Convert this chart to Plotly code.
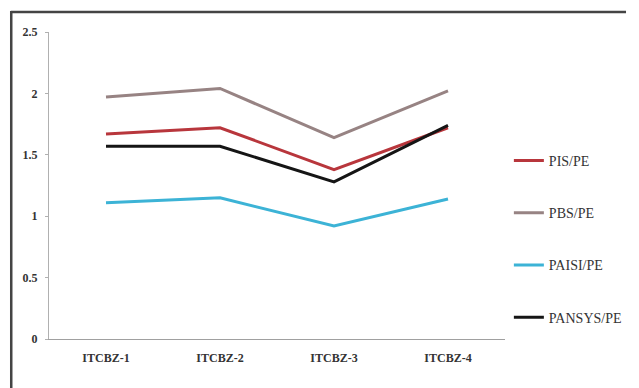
import plotly.graph_objects as go

categories = ["ITCBZ-1", "ITCBZ-2", "ITCBZ-3", "ITCBZ-4"]
pis_pe = [1.67, 1.72, 1.38, 1.72]
pbs_pe = [1.97, 2.04, 1.64, 2.02]
paisi_pe = [1.11, 1.15, 0.92, 1.14]
pansys_pe = [1.57, 1.57, 1.28, 1.74]
y_ticks = [0, 0.5, 1, 1.5, 2, 2.5]
y_tick_labels = ["0", "0.5", "1", "1.5", "2", "2.5"]

series = [
    ("PIS/PE", pis_pe, "#b8363c"),
    ("PBS/PE", pbs_pe, "#978383"),
    ("PAISI/PE", paisi_pe, "#3cb3d6"),
    ("PANSYS/PE", pansys_pe, "#151515"),
]

fig = go.Figure()
for i, (name, vals, color) in enumerate(series):
    fig.add_trace(go.Scatter(
        x=categories, y=vals, name=name, mode="lines",
        line=dict(color=color, width=3),
        legendgroup="g%d" % i,
    ))

W, H = 639, 388
L, R, T, B = 49, 119, 32, 49
pw = W - L - R
ph = H - T - B

def px_x(p):
    return (p - L) / pw

def px_y(p):
    return (H - B - p) / ph

fig.update_layout(
    width=W, height=H,
    margin=dict(l=L, r=R, t=T, b=B),
    paper_bgcolor="white", plot_bgcolor="white",
    font=dict(family="Liberation Serif, Times New Roman, serif", color="#333"),
    showlegend=True,
    legend=dict(
        x=px_x(524), xanchor="left",
        y=px_y(145), yanchor="top",
        traceorder="grouped", tracegroupgap=31,
        itemwidth=30,
        font=dict(size=14, color="#333", family="Liberation Serif, serif"),
        bgcolor="rgba(0,0,0,0)",
    ),
    xaxis=dict(
        type="category", range=[-0.5, 3.5],
        showline=True, linecolor="#a0a0a0", linewidth=1,
        showgrid=False, zeroline=False,
        ticks="",
        tickfont=dict(size=12, color="#333", family="Liberation Serif, serif", weight="bold"),
        ticklabelstandoff=8,
    ),
    yaxis=dict(
        range=[0, 2.5], tickvals=y_ticks, ticktext=y_tick_labels,
        showline=True, linecolor="#b0b0b0", linewidth=1,
        showgrid=False, zeroline=False,
        ticks="outside", ticklen=3, tickcolor="#b0b0b0",
        tickfont=dict(size=12, color="#333", family="Liberation Serif, serif", weight="bold"),
        ticklabelstandoff=5,
    ),
    shapes=[
        dict(type="line", xref="paper", yref="paper",
             x0=px_x(9.5), x1=px_x(645), y0=px_y(12), y1=px_y(12),
             line=dict(color="#444", width=2.5)),
        dict(type="line", xref="paper", yref="paper",
             x0=px_x(10), x1=px_x(10), y0=px_y(11), y1=px_y(395),
             line=dict(color="#444", width=2.5)),
    ],
)

fig.write_html("out.html")
